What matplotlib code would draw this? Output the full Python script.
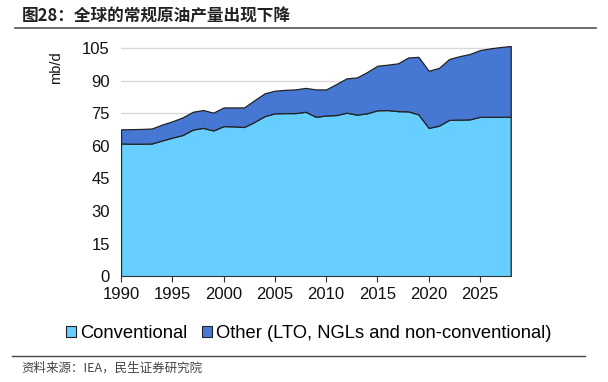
import numpy as np
import matplotlib.pyplot as plt
from matplotlib.patches import Patch

plt.rcParams['font.family'] = ['Liberation Sans', 'Noto Sans CJK SC', 'DejaVu Sans']

years = np.arange(1990, 2029)
conventional = [61.1, 61.0, 61.0, 61.1, 62.5, 63.8, 65.0, 67.5, 68.3, 67.1,
                69.1, 69.0, 68.7, 71.0, 73.7, 75.0, 75.1, 75.1, 75.7, 73.4,
                74.0, 74.2, 75.3, 74.4, 75.0, 76.4, 76.5, 76.0, 75.9, 74.5,
                68.3, 69.3, 72.0, 72.1, 72.2, 73.4, 73.4, 73.4, 73.4]
other = [6.5, 6.7, 6.8, 6.9, 7.3, 7.5, 8.1, 8.2, 8.2, 8.2,
         8.6, 8.7, 9.0, 10.0, 10.5, 10.4, 10.7, 10.9, 11.0, 12.6,
         12.0, 14.3, 15.8, 17.1, 19.0, 20.5, 20.9, 22.0, 24.8, 26.5,
         26.3, 26.6, 28.0, 29.2, 30.1, 30.7, 31.5, 32.1, 32.6]
labels = ["Conventional", "Other (LTO, NGLs and non-conventional)"]
colors = ["#66CFFF", "#4678D3"]

fig = plt.figure(figsize=(6.08, 3.82), dpi=100)
ax = fig.add_axes([0.199, 0.277, 0.641, 0.614])

ax.stackplot(years, conventional, other, colors=colors,
             edgecolor="#222222", linewidth=0.9, zorder=2)

ax.set_xlim(1990, 2028)
ax.set_ylim(0, 108)
ax.set_yticks(np.arange(0, 106, 15))
ax.set_xticks(np.arange(1990, 2026, 5))
ax.grid(axis='y', color="#D9D9D9", linewidth=1, zorder=0)
ax.set_axisbelow(True)
for s in ["top", "right", "left"]:
    ax.spines[s].set_visible(False)
ax.spines["bottom"].set_color("#333333")
ax.spines["bottom"].set_zorder(3)
ax.tick_params(axis='y', length=0, labelsize=12, pad=8, colors="#111111")
ax.tick_params(axis='x', length=4, direction='out', color="#333333",
               labelsize=12, colors="#111111")

fig.text(0.092, 0.822, "mb/d", rotation=90, fontsize=10.5, ha='center',
         va='center', color="#111111")

handles = [Patch(facecolor=c, edgecolor="#222222", linewidth=0.8) for c in colors]
fig.legend(handles, labels, loc='center', bbox_to_anchor=(0.508, 0.126),
           ncol=2, frameon=False, fontsize=13.2, handlelength=0.55,
           handleheight=0.55, handletextpad=0.2, columnspacing=0.8)

fig.text(0.036, 0.957, "图28：全球的常规原油产量出现下降", fontsize=12,
         fontweight='bold', family=['Noto Sans CJK SC', 'DejaVu Sans'],
         va='center', color="#222222")
fig.add_artist(plt.Line2D([0.025, 0.98], [0.927, 0.927], color="#555555",
                          linewidth=1.2))
fig.add_artist(plt.Line2D([0.02, 0.962], [0.068, 0.068], color="#444444",
                          linewidth=1))
fig.text(0.036, 0.036, "资料来源：IEA，民生证券研究院", fontsize=9,
         family=['Noto Sans CJK SC', 'DejaVu Sans'], va='center',
         color="#444444")

fig.savefig("out.png", dpi=100)
